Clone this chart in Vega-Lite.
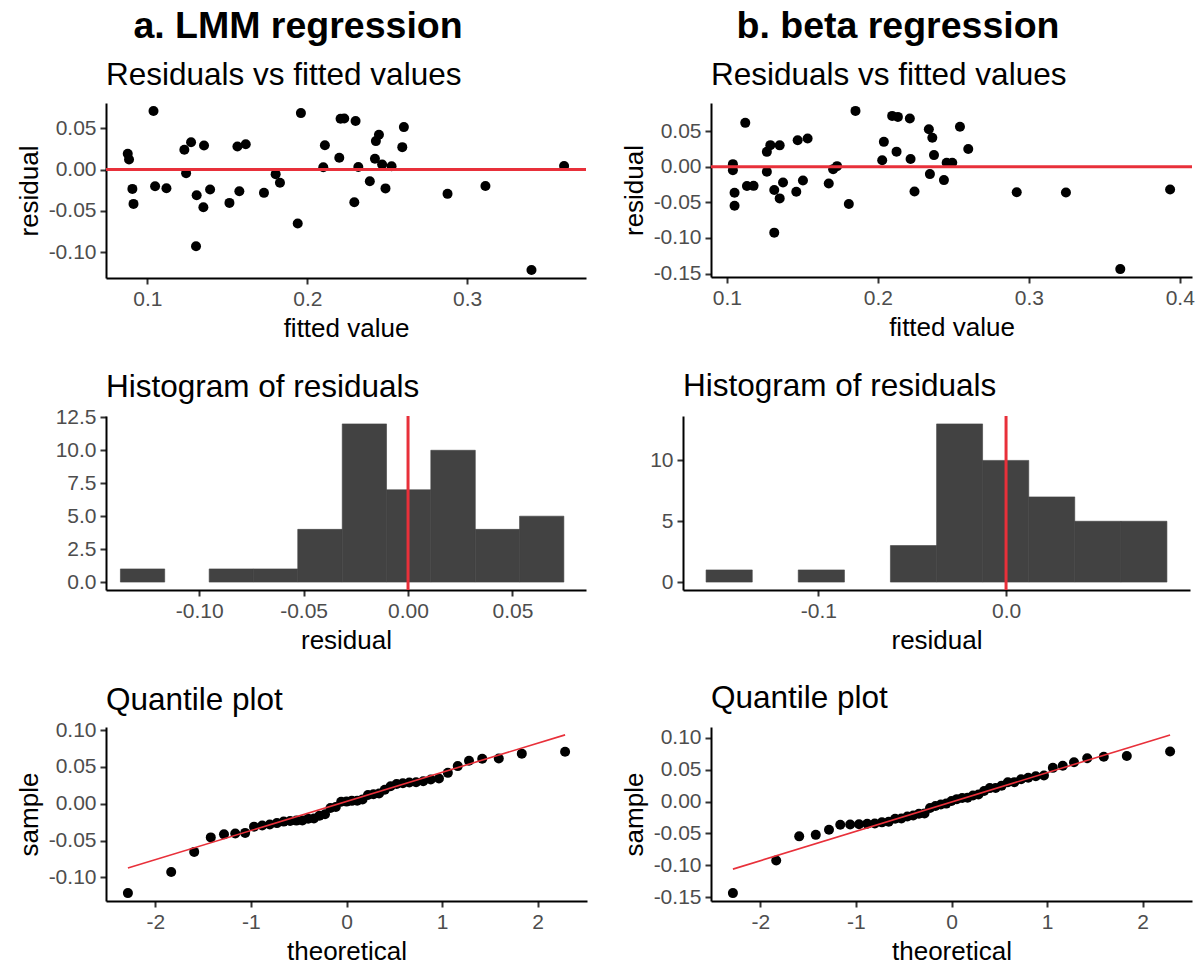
{
  "$schema": "https://vega.github.io/schema/vega-lite/v6.json",
  "padding": {"left": 16, "top": 8, "right": 0, "bottom": 0},
  "background": "white",
  "datasets": {
    "lmm": [
      {"fitted": 0.0877, "residual": 0.019, "theoretical": 0.4004},
      {"fitted": 0.0885, "residual": 0.012, "theoretical": 0.2247},
      {"fitted": 0.0906, "residual": -0.0234, "theoretical": -0.5895},
      {"fitted": 0.0913, "residual": -0.0415, "theoretical": -1.2816},
      {"fitted": 0.1038, "residual": 0.0706, "theoretical": 2.2868},
      {"fitted": 0.1048, "residual": -0.0202, "theoretical": -0.4004},
      {"fitted": 0.1119, "residual": -0.0226, "theoretical": -0.4615},
      {"fitted": 0.1231, "residual": 0.0238, "theoretical": 0.4615},
      {"fitted": 0.1242, "residual": -0.0044, "theoretical": -0.1117},
      {"fitted": 0.1273, "residual": 0.033, "theoretical": 0.8817},
      {"fitted": 0.1308, "residual": -0.031, "theoretical": -0.9674},
      {"fitted": 0.1304, "residual": -0.0927, "theoretical": -1.8339},
      {"fitted": 0.1354, "residual": 0.029, "theoretical": 0.6571},
      {"fitted": 0.1392, "residual": -0.0242, "theoretical": -0.6571},
      {"fitted": 0.135, "residual": -0.0456, "theoretical": -1.4199},
      {"fitted": 0.1513, "residual": -0.0403, "theoretical": -1.1638},
      {"fitted": 0.1563, "residual": 0.0278, "theoretical": 0.5895},
      {"fitted": 0.1575, "residual": -0.0262, "theoretical": -0.7279},
      {"fitted": 0.1615, "residual": 0.0306, "theoretical": 0.8027},
      {"fitted": 0.1729, "residual": -0.0282, "theoretical": -0.8027},
      {"fitted": 0.1802, "residual": -0.0056, "theoretical": -0.1679},
      {"fitted": 0.1829, "residual": -0.0161, "theoretical": -0.2822},
      {"fitted": 0.194, "residual": -0.0653, "theoretical": -1.5932},
      {"fitted": 0.196, "residual": 0.0681, "theoretical": 1.8339},
      {"fitted": 0.21, "residual": 0.0028, "theoretical": -0.0557},
      {"fitted": 0.211, "residual": 0.0292, "theoretical": 0.7279},
      {"fitted": 0.22, "residual": 0.0141, "theoretical": 0.3407},
      {"fitted": 0.2208, "residual": 0.0613, "theoretical": 1.4199},
      {"fitted": 0.2231, "residual": 0.0615, "theoretical": 1.5932},
      {"fitted": 0.2302, "residual": 0.0585, "theoretical": 1.2816},
      {"fitted": 0.2319, "residual": 0.003, "theoretical": 0},
      {"fitted": 0.2294, "residual": -0.0395, "theoretical": -1.0603},
      {"fitted": 0.2391, "residual": -0.0141, "theoretical": -0.2247},
      {"fitted": 0.2429, "residual": 0.0343, "theoretical": 0.9674},
      {"fitted": 0.2448, "residual": 0.042, "theoretical": 1.0603},
      {"fitted": 0.2423, "residual": 0.0129, "theoretical": 0.2822},
      {"fitted": 0.2468, "residual": 0.006, "theoretical": 0.1679},
      {"fitted": 0.2527, "residual": 0.004, "theoretical": 0.0557},
      {"fitted": 0.2489, "residual": -0.0228, "theoretical": -0.5244},
      {"fitted": 0.2604, "residual": 0.0512, "theoretical": 1.1638},
      {"fitted": 0.2594, "residual": 0.027, "theoretical": 0.5244},
      {"fitted": 0.2877, "residual": -0.0294, "theoretical": -0.8817},
      {"fitted": 0.3114, "residual": -0.02, "theoretical": -0.3407},
      {"fitted": 0.3402, "residual": -0.1213, "theoretical": -2.2868},
      {"fitted": 0.3606, "residual": 0.0042, "theoretical": 0.1117}
    ],
    "beta": [
      {"fitted": 0.104, "residual": 0.0037, "theoretical": 0.0557},
      {"fitted": 0.104, "residual": -0.0047, "theoretical": -0.1117},
      {"fitted": 0.1051, "residual": -0.0364, "theoretical": -1.1638},
      {"fitted": 0.1051, "residual": -0.0547, "theoretical": -1.5932},
      {"fitted": 0.1122, "residual": 0.0617, "theoretical": 1.2816},
      {"fitted": 0.1133, "residual": -0.0271, "theoretical": -0.5895},
      {"fitted": 0.1177, "residual": -0.0268, "theoretical": -0.5244},
      {"fitted": 0.1265, "residual": 0.021, "theoretical": 0.4004},
      {"fitted": 0.1288, "residual": 0.0304, "theoretical": 0.6571},
      {"fitted": 0.1265, "residual": -0.007, "theoretical": -0.1679},
      {"fitted": 0.135, "residual": 0.0301, "theoretical": 0.5895},
      {"fitted": 0.1314, "residual": -0.0327, "theoretical": -0.7279},
      {"fitted": 0.1372, "residual": -0.022, "theoretical": -0.4004},
      {"fitted": 0.135, "residual": -0.0444, "theoretical": -1.2816},
      {"fitted": 0.1314, "residual": -0.0925, "theoretical": -1.8339},
      {"fitted": 0.1469, "residual": 0.0374, "theoretical": 0.8027},
      {"fitted": 0.1535, "residual": 0.0397, "theoretical": 0.8817},
      {"fitted": 0.146, "residual": -0.035, "theoretical": -0.8817},
      {"fitted": 0.1504, "residual": -0.0192, "theoretical": -0.3407},
      {"fitted": 0.1675, "residual": -0.0234, "theoretical": -0.4615},
      {"fitted": 0.1704, "residual": -0.0033, "theoretical": -0.0557},
      {"fitted": 0.173, "residual": 0.0009, "theoretical": 0},
      {"fitted": 0.1808, "residual": -0.0523, "theoretical": -1.4199},
      {"fitted": 0.1852, "residual": 0.0785, "theoretical": 2.2868},
      {"fitted": 0.2029, "residual": 0.0093, "theoretical": 0.2247},
      {"fitted": 0.204, "residual": 0.035, "theoretical": 0.7279},
      {"fitted": 0.2095, "residual": 0.0715, "theoretical": 1.8339},
      {"fitted": 0.2133, "residual": 0.0701, "theoretical": 1.5932},
      {"fitted": 0.2124, "residual": 0.0213, "theoretical": 0.4615},
      {"fitted": 0.2212, "residual": 0.0678, "theoretical": 1.4199},
      {"fitted": 0.2217, "residual": 0.011, "theoretical": 0.2822},
      {"fitted": 0.2243, "residual": -0.0346, "theoretical": -0.8027},
      {"fitted": 0.2338, "residual": 0.0528, "theoretical": 1.0603},
      {"fitted": 0.2361, "residual": 0.0407, "theoretical": 0.9674},
      {"fitted": 0.2372, "residual": 0.0164, "theoretical": 0.3407},
      {"fitted": 0.2345, "residual": -0.0103, "theoretical": -0.2247},
      {"fitted": 0.2438, "residual": -0.0187, "theoretical": -0.2822},
      {"fitted": 0.2456, "residual": 0.0056, "theoretical": 0.1117},
      {"fitted": 0.2493, "residual": 0.0058, "theoretical": 0.1679},
      {"fitted": 0.2544, "residual": 0.0562, "theoretical": 1.1638},
      {"fitted": 0.2599, "residual": 0.0249, "theoretical": 0.5244},
      {"fitted": 0.292, "residual": -0.0358, "theoretical": -0.9674},
      {"fitted": 0.3246, "residual": -0.0361, "theoretical": -1.0603},
      {"fitted": 0.3606, "residual": -0.1437, "theoretical": -2.2868},
      {"fitted": 0.3936, "residual": -0.0318, "theoretical": -0.6571}
    ],
    "lmm_hist": [
      {"start": -0.1377, "end": -0.1165, "count": 1},
      {"start": -0.0952, "end": -0.074, "count": 1},
      {"start": -0.074, "end": -0.0528, "count": 1},
      {"start": -0.0528, "end": -0.0315, "count": 4},
      {"start": -0.0315, "end": -0.0103, "count": 12},
      {"start": -0.0103, "end": 0.0109, "count": 7},
      {"start": 0.0109, "end": 0.0322, "count": 10},
      {"start": 0.0322, "end": 0.0534, "count": 4},
      {"start": 0.0534, "end": 0.0746, "count": 5}
    ],
    "beta_hist": [
      {"start": -0.1598, "end": -0.1352, "count": 1},
      {"start": -0.1107, "end": -0.0861, "count": 1},
      {"start": -0.0616, "end": -0.037, "count": 3},
      {"start": -0.037, "end": -0.0125, "count": 13},
      {"start": -0.0125, "end": 0.0121, "count": 10},
      {"start": 0.0121, "end": 0.0366, "count": 7},
      {"start": 0.0366, "end": 0.0612, "count": 5},
      {"start": 0.0612, "end": 0.0857, "count": 5}
    ],
    "lmm_qqline": [
      {"theoretical": -2.2868, "residual": -0.0872},
      {"theoretical": 2.2868, "residual": 0.0936}
    ],
    "beta_qqline": [
      {"theoretical": -2.2868, "residual": -0.1061},
      {"theoretical": 2.2868, "residual": 0.1045}
    ]
  },
  "vconcat": [
    {
      "spacing": 123,
      "hconcat": [
        {
          "width": 384, "height": 36,
          "data": {"values": [{"heading": "a. LMM regression"}]},
          "mark": {"type": "text", "font": "Liberation Sans", "fontSize": 37.5, "fontWeight": "bold", "color": "#000000"},
          "encoding": {"text": {"field": "heading"}}
        },
        {
          "width": 570, "height": 36,
          "data": {"values": [{"heading": "b. beta regression"}]},
          "mark": {"type": "text", "font": "Liberation Sans", "fontSize": 37.5, "fontWeight": "bold", "color": "#000000"},
          "encoding": {"text": {"field": "heading"}}
        }
      ]
    },
    {
      "columns": 2,
      "align": {"column": "none", "row": "each"},
      "spacing": {"column": 33, "row": 30},
      "concat": [
        {
          "title": {"text": "Residuals vs fitted values", "offset": 12},
          "width": 480, "height": 175,
          "data": {"name": "lmm"},
          "layer": [
            {
              "mark": {"type": "circle", "size": 100, "color": "#000000", "opacity": 1},
              "encoding": {
                "x": {"field": "fitted", "type": "quantitative", "scale": {"domain": [0.0741, 0.3743], "nice": false, "zero": false}, "axis": {"title": "fitted value", "values": [0.1, 0.2, 0.3], "tickCount": 12, "format": ".1f"}},
                "y": {"field": "residual", "type": "quantitative", "scale": {"domain": [-0.131, 0.0803], "nice": false, "zero": false}, "axis": {"title": "residual", "values": [-0.1, -0.05, 0, 0.05], "tickCount": 12, "labelExpr": "replace(format(datum.value, '.2f'), '\u2212', '-')"}}
              }
            },
            {
              "data": {"values": [{"residual": 0}]},
              "mark": {"type": "rule", "color": "#e8303a", "strokeWidth": 3},
              "encoding": {"y": {"field": "residual", "type": "quantitative"}}
            }
          ]
        },
        {
          "title": {"text": "Residuals vs fitted values", "offset": 12},
          "width": 481, "height": 174,
          "data": {"name": "beta"},
          "layer": [
            {
              "mark": {"type": "circle", "size": 100, "color": "#000000", "opacity": 1},
              "encoding": {
                "x": {"field": "fitted", "type": "quantitative", "scale": {"domain": [0.0895, 0.4081], "nice": false, "zero": false}, "axis": {"title": "fitted value", "values": [0.1, 0.2, 0.3, 0.4], "tickCount": 12, "format": ".1f"}},
                "y": {"field": "residual", "type": "quantitative", "scale": {"domain": [-0.1548, 0.0896], "nice": false, "zero": false}, "axis": {"title": "residual", "values": [-0.15, -0.1, -0.05, 0, 0.05], "tickCount": 12, "labelExpr": "replace(format(datum.value, '.2f'), '\u2212', '-')"}}
              }
            },
            {
              "data": {"values": [{"residual": 0}]},
              "mark": {"type": "rule", "color": "#e8303a", "strokeWidth": 3},
              "encoding": {"y": {"field": "residual", "type": "quantitative"}}
            }
          ]
        },
        {
          "title": {"text": "Histogram of residuals", "offset": 3},
          "width": 480, "height": 174,
          "data": {"name": "lmm_hist"},
          "layer": [
            {
              "mark": {"type": "bar", "color": "#424242", "stroke": "#424242", "strokeWidth": 0.6},
              "encoding": {
                "x": {"field": "start", "type": "quantitative", "scale": {"domain": [-0.1446, 0.0852], "nice": false, "zero": false}, "axis": {"title": "residual", "values": [-0.1, -0.05, 0, 0.05], "tickCount": 12, "labelExpr": "replace(format(datum.value, '.2f'), '\u2212', '-')"}},
                "x2": {"field": "end"},
                "y": {"field": "count", "type": "quantitative", "scale": {"domain": [-0.6, 12.6], "nice": false, "zero": false}, "axis": {"title": " ", "values": [0, 2.5, 5, 7.5, 10, 12.5], "tickCount": 12, "format": ".1f"}},
                "y2": {"datum": 0}
              }
            },
            {
              "data": {"values": [{"start": 0}]},
              "mark": {"type": "rule", "color": "#e8303a", "strokeWidth": 3},
              "encoding": {"x": {"field": "start", "type": "quantitative"}}
            }
          ]
        },
        {
          "title": {"text": "Histogram of residuals", "offset": 12},
          "width": 507, "height": 174,
          "data": {"name": "beta_hist"},
          "layer": [
            {
              "mark": {"type": "bar", "color": "#424242", "stroke": "#424242", "strokeWidth": 0.6},
              "encoding": {
                "x": {"field": "start", "type": "quantitative", "scale": {"domain": [-0.1721, 0.098], "nice": false, "zero": false}, "axis": {"title": "residual", "values": [-0.1, 0], "tickCount": 12, "labelExpr": "replace(format(datum.value, '.1f'), '\u2212', '-')"}},
                "x2": {"field": "end"},
                "y": {"field": "count", "type": "quantitative", "scale": {"domain": [-0.65, 13.65], "nice": false, "zero": false}, "axis": {"title": " ", "titlePadding": 2, "values": [0, 5, 10], "tickCount": 12, "format": "d"}},
                "y2": {"datum": 0}
              }
            },
            {
              "data": {"values": [{"start": 0}]},
              "mark": {"type": "rule", "color": "#e8303a", "strokeWidth": 3},
              "encoding": {"x": {"field": "start", "type": "quantitative"}}
            }
          ]
        },
        {
          "title": {"text": "Quantile plot", "offset": 3},
          "width": 481, "height": 174,
          "data": {"name": "lmm"},
          "layer": [
            {
              "mark": {"type": "circle", "size": 100, "color": "#000000", "opacity": 1},
              "encoding": {
                "x": {"field": "theoretical", "type": "quantitative", "scale": {"domain": [-2.516, 2.516], "nice": false, "zero": false}, "axis": {"title": "theoretical", "values": [-2, -1, 0, 1, 2], "tickCount": 12, "labelExpr": "replace(format(datum.value, 'd'), '\u2212', '-')"}},
                "y": {"field": "residual", "type": "quantitative", "scale": {"domain": [-0.132, 0.1043], "nice": false, "zero": false}, "axis": {"title": "sample", "values": [-0.1, -0.05, 0, 0.05, 0.1], "tickCount": 12, "labelExpr": "replace(format(datum.value, '.2f'), '\u2212', '-')"}}
              }
            },
            {
              "data": {"name": "lmm_qqline"},
              "mark": {"type": "line", "color": "#e8303a", "strokeWidth": 1.6},
              "encoding": {
                "x": {"field": "theoretical", "type": "quantitative"},
                "y": {"field": "residual", "type": "quantitative"}
              }
            }
          ]
        },
        {
          "title": {"text": "Quantile plot", "offset": 12},
          "width": 481, "height": 174,
          "data": {"name": "beta"},
          "layer": [
            {
              "mark": {"type": "circle", "size": 100, "color": "#000000", "opacity": 1},
              "encoding": {
                "x": {"field": "theoretical", "type": "quantitative", "scale": {"domain": [-2.516, 2.516], "nice": false, "zero": false}, "axis": {"title": "theoretical", "values": [-2, -1, 0, 1, 2], "tickCount": 12, "labelExpr": "replace(format(datum.value, 'd'), '\u2212', '-')"}},
                "y": {"field": "residual", "type": "quantitative", "scale": {"domain": [-0.1561, 0.1169], "nice": false, "zero": false}, "axis": {"title": "sample", "values": [-0.15, -0.1, -0.05, 0, 0.05, 0.1], "tickCount": 12, "labelExpr": "replace(format(datum.value, '.2f'), '\u2212', '-')"}}
              }
            },
            {
              "data": {"name": "beta_qqline"},
              "mark": {"type": "line", "color": "#e8303a", "strokeWidth": 1.6},
              "encoding": {
                "x": {"field": "theoretical", "type": "quantitative"},
                "y": {"field": "residual", "type": "quantitative"}
              }
            }
          ]
        }
      ]
    }
  ],
  "spacing": 13,
  "resolve": {"scale": {"x": "independent", "y": "independent"}},
  "config": {
    "font": "Liberation Sans",
    "view": {"stroke": null},
    "axis": {
      "grid": false,
      "labelOverlap": false,
      "domainColor": "#000000",
      "domainWidth": 2,
      "tickColor": "#333333",
      "tickWidth": 2,
      "tickSize": 6,
      "labelFont": "Liberation Sans",
      "labelFontSize": 21,
      "labelColor": "#4d4d4d",
      "labelPadding": 4,
      "titleFont": "Liberation Sans",
      "titleFontSize": 26,
      "titleFontWeight": "normal",
      "titleColor": "#000000",
      "titlePadding": 6
    },
    "title": {
      "font": "Liberation Sans",
      "fontSize": 31.5,
      "fontWeight": "normal",
      "anchor": "start",
      "frame": "group",
      "color": "#000000",
      "offset": 8
    }
  }
}
